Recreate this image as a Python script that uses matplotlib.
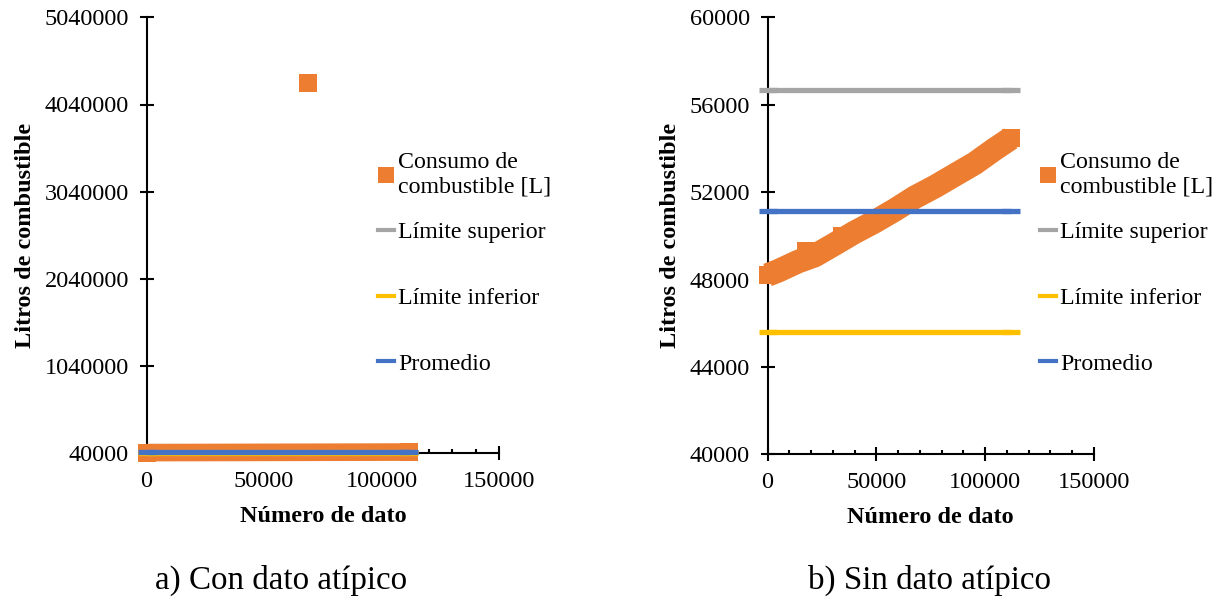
import matplotlib
matplotlib.use("Agg")
import matplotlib.pyplot as plt
import matplotlib.ticker as ticker
from matplotlib.lines import Line2D

plt.rcParams['font.family'] = ['Liberation Serif', 'DejaVu Serif']

numero_dato = [0, 4740, 13950, 21630, 30830, 40030, 49230, 58430, 67640,
               76840, 86040, 95250, 104450, 111800]
consumo = [48206, 48389, 48815, 49090, 49620, 50160, 50645, 51180, 51762,
           52247, 52783, 53318, 53973, 54462]
# puntos que sobresalen de la banda
salto_x = [17800, 34200]
salto_y = [49290, 49977]
# dato atipico
atipico_x = [68540]
atipico_y = [4290000]

lim_sup = 56690
lim_inf = 45580
promedio = 51135

x_ticks = [0, 50000, 100000, 150000]
y_ticks_a = [40000, 1040000, 2040000, 3040000, 4040000, 5040000]
y_ticks_b = [40000, 44000, 48000, 52000, 56000, 60000]

NARANJA = '#ED7D31'
GRIS = '#A5A5A5'
AMARILLO = '#FFC000'
AZUL = '#4472C4'

FS_TICK = 17.5
FS_LAB = 17.5
FS_LEY = 17.2
FS_PIE = 23.8


def estilo_ejes(ax, yticks):
    for s in ['top', 'right']:
        ax.spines[s].set_visible(False)
    for s in ['left', 'bottom']:
        ax.spines[s].set_linewidth(1.5)
    ax.set_xlim(0, 150000)
    ax.set_ylim(yticks[0], yticks[-1])
    ax.set_xticks(x_ticks)
    ax.set_yticks(yticks)
    ax.xaxis.set_minor_locator(ticker.MultipleLocator(10000))
    ax.yaxis.set_major_formatter(ticker.FuncFormatter(lambda v, p: f"{int(v)}"))
    ax.xaxis.set_major_formatter(ticker.FuncFormatter(lambda v, p: f"{int(v)}"))
    ax.tick_params(which='major', direction='inout', length=9.5, width=1.5,
                   labelsize=FS_TICK, pad=8)
    ax.tick_params(which='minor', axis='x', direction='in', length=3, width=1.5)
    ax.set_xlabel('Número de dato', fontsize=FS_LAB, fontweight='bold', labelpad=10)
    ax.set_ylabel('Litros de combustible', fontsize=FS_LAB, fontweight='bold', labelpad=6)


def dibujar_consumo(ax, lw, ms):
    ax.plot(numero_dato, consumo, color=NARANJA, lw=lw, solid_capstyle='butt',
            solid_joinstyle='round', marker='s', ms=ms, mew=0, markevery=[0, -1],
            clip_on=False, zorder=3)


def dibujar_limites(ax):
    x_lin = [numero_dato[0], numero_dato[-1]]
    for val, col in [(lim_sup, GRIS), (lim_inf, AMARILLO), (promedio, AZUL)]:
        ax.plot(x_lin, [val, val], color=col, lw=3.8, solid_capstyle='butt',
                marker='_', ms=13, mew=3.8, clip_on=False, zorder=4)


fig = plt.figure(figsize=(12.22, 6.06), dpi=100)
ax1 = fig.add_axes([146.5 / 1222, 1 - 453.3 / 606, 352.8 / 1222, 436 / 606])
ax2 = fig.add_axes([767.5 / 1222, 1 - 454.3 / 606, 326.5 / 1222, 437 / 606])

# a) con dato atipico
dibujar_consumo(ax1, 12.7, 12.7)
ax1.plot(atipico_x, atipico_y, 's', color=NARANJA, ms=12.7, mew=0, clip_on=False, zorder=3)
dibujar_limites(ax1)
estilo_ejes(ax1, y_ticks_a)

# b) sin dato atipico
dibujar_consumo(ax2, 17, 13.5)
ax2.plot(salto_x, salto_y, 's', color=NARANJA, ms=13.2, mew=0, clip_on=False, zorder=3)
dibujar_limites(ax2)
estilo_ejes(ax2, y_ticks_b)

h_cons = Line2D([], [], ls='none', marker='s', ms=11, mew=0, color=NARANJA)
h_sup = Line2D([], [], color=GRIS, lw=3)
h_inf = Line2D([], [], color=AMARILLO, lw=3)
h_prom = Line2D([], [], color=AZUL, lw=3)

for x0 in [378, 1040]:
    fig.legend([h_cons], ['Consumo de\ncombustible [L]'], loc='center left',
               bbox_to_anchor=(x0 / 1222, 1 - 175 / 606), frameon=False,
               borderpad=0, borderaxespad=0, handlelength=0.65,
               handletextpad=0.2, fontsize=FS_LEY)
    fig.legend([h_sup, h_inf, h_prom], ['Límite superior', 'Límite inferior', 'Promedio'],
               loc='center left', bbox_to_anchor=(x0 / 1222, 1 - 298 / 606),
               frameon=False, borderpad=0, borderaxespad=0, handlelength=0.65,
               handletextpad=0.2, labelspacing=1.85, fontsize=FS_LEY)

fig.text(281 / 1222, 1 - 580 / 606, 'a) Con dato atípico', ha='center', va='center',
         fontsize=FS_PIE)
fig.text(930 / 1222, 1 - 580 / 606, 'b) Sin dato atípico', ha='center', va='center',
         fontsize=FS_PIE)

fig.savefig('out.png', dpi=100)
